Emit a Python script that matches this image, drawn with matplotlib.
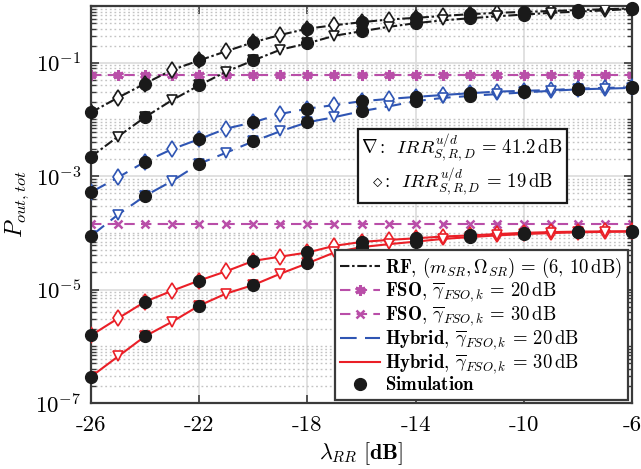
import matplotlib
matplotlib.use("Agg")
import matplotlib.pyplot as plt
from matplotlib.ticker import LogLocator, NullFormatter
from matplotlib.lines import Line2D

plt.rcParams['font.family'] = 'serif'
plt.rcParams['font.serif'] = ['cmr10', 'DejaVu Serif']
plt.rcParams['mathtext.fontset'] = 'cm'
plt.rcParams['axes.unicode_minus'] = False
plt.rcParams['axes.formatter.use_mathtext'] = True

# ---------------- data ----------------
lam = [-26, -25, -24, -23, -22, -21, -20, -19, -18, -17, -16,
       -15, -14, -13, -12, -11, -10, -9, -8, -7, -6]

rf_irr19 = [0.0133, 0.0243, 0.043, 0.075, 0.11, 0.16, 0.23, 0.31, 0.40, 0.46, 0.52,
            0.58, 0.62, 0.67, 0.72, 0.76, 0.79, 0.82, 0.85, 0.88, 0.91]
rf_irr41 = [0.0022, 0.005, 0.011, 0.022, 0.04, 0.07, 0.11, 0.17, 0.22, 0.30, 0.36,
            0.43, 0.50, 0.56, 0.61, 0.66, 0.71, 0.76, 0.80, 0.84, 0.89]

fso20 = [0.06, 0.06, 0.06, 0.06, 0.06, 0.06, 0.06, 0.06, 0.06, 0.06, 0.06,
         0.06, 0.06, 0.06, 0.06, 0.06, 0.06, 0.06, 0.06, 0.06, 0.06]
fso30 = [1.45e-4, 1.45e-4, 1.45e-4, 1.45e-4, 1.45e-4, 1.45e-4, 1.45e-4, 1.45e-4, 1.45e-4,
         1.45e-4, 1.45e-4, 1.45e-4, 1.45e-4, 1.45e-4, 1.45e-4, 1.45e-4, 1.45e-4, 1.45e-4,
         1.45e-4, 1.45e-4, 1.45e-4]

hyb20_irr19 = [5.2e-4, 9.5e-4, 1.8e-3, 3.0e-3, 4.5e-3, 6.9e-3, 8.9e-3, 1.25e-2, 1.55e-2,
               1.8e-2, 2.1e-2, 2.3e-2, 2.5e-2, 2.7e-2, 2.9e-2, 3.1e-2, 3.2e-2, 3.3e-2,
               3.5e-2, 3.6e-2, 3.7e-2]
hyb20_irr41 = [8.8e-5, 2.1e-4, 4.5e-4, 8.2e-4, 1.65e-3, 2.6e-3, 4.1e-3, 6.2e-3, 8.9e-3,
               1.1e-2, 1.4e-2, 1.7e-2, 2.1e-2, 2.4e-2, 2.6e-2, 2.8e-2, 3.0e-2, 3.2e-2,
               3.4e-2, 3.5e-2, 3.6e-2]

hyb30_irr19 = [1.55e-6, 3.1e-6, 6.1e-6, 9.5e-6, 1.44e-5, 2.1e-5, 3.2e-5, 3.8e-5, 4.5e-5,
               5.9e-5, 6.9e-5, 7.5e-5, 8.0e-5, 8.6e-5, 9.0e-5, 9.5e-5, 1.0e-4, 1.03e-4,
               1.05e-4, 1.06e-4, 1.07e-4]
hyb30_irr41 = [2.9e-7, 6.6e-7, 1.5e-6, 2.7e-6, 5.2e-6, 8.5e-6, 1.2e-5, 1.9e-5, 2.9e-5,
               4.5e-5, 5.6e-5, 6.3e-5, 7.0e-5, 7.8e-5, 8.4e-5, 9.0e-5, 9.5e-5, 9.9e-5,
               1.02e-4, 1.04e-4, 1.05e-4]

xticks = [-26, -22, -18, -14, -10, -6]
xticklabels = ['-26', '-22', '-18', '-14', '-10', '-6']
yticks = [1e-7, 1e-5, 1e-3, 1e-1]
yticklabels = [r'$10^{-7}$', r'$10^{-5}$', r'$10^{-3}$', r'$10^{-1}$']

# ---------------- style ----------------
BLACK = '#1a1a1a'
MAG = '#b94ea8'
BLUE = '#2f55b3'
RED = '#ea1f27'
lw = 1.5
ms_tri = 7.5
ms_dia = 8.5
mew = 1.2

fig = plt.figure(figsize=(6.41, 4.69), dpi=100)
ax = fig.add_axes([0.142, 0.141, 0.844, 0.846])
ax.set_yscale('log')

# RF
rf_ls = (0, (4.5, 1.3, 1.2, 1.3))
ax.plot(lam, rf_irr19, color=BLACK, lw=lw, ls=rf_ls, marker='d', ms=ms_dia,
        mfc='white', mec=BLACK, mew=mew, zorder=3)
ax.plot(lam, rf_irr41, color=BLACK, lw=lw, ls=rf_ls, marker='v', ms=ms_tri,
        mfc='white', mec=BLACK, mew=mew, zorder=3)

# FSO
fso_ls = (0, (5, 3))
ax.plot(lam, fso20, color=MAG, lw=lw, ls=fso_ls, marker=(6, 2, 0), ms=7.5,
        mec=MAG, mew=2.2, zorder=2)
ax.plot(lam, fso30, color=MAG, lw=lw, ls=fso_ls, marker='x', ms=5.5,
        mec=MAG, mew=1.8, zorder=2)

# Hybrid 20
hyb_ls = (0, (8, 4))
ax.plot(lam, hyb20_irr19, color=BLUE, lw=lw, ls=hyb_ls, marker='d', ms=ms_dia,
        mfc='white', mec=BLUE, mew=mew, zorder=3)
ax.plot(lam, hyb20_irr41, color=BLUE, lw=lw, ls=hyb_ls, marker='v', ms=ms_tri,
        mfc='white', mec=BLUE, mew=mew, zorder=3)

# Hybrid 30
ax.plot(lam, hyb30_irr19, color=RED, lw=lw, ls='-', marker='d', ms=ms_dia,
        mfc='white', mec=RED, mew=mew, zorder=3)
ax.plot(lam, hyb30_irr41, color=RED, lw=lw, ls='-', marker='v', ms=ms_tri,
        mfc='white', mec=RED, mew=mew, zorder=3)

# Simulation points (every 2 dB)
for series in (rf_irr19, rf_irr41, hyb20_irr19, hyb20_irr41, hyb30_irr19, hyb30_irr41):
    ax.plot(lam[::2], series[::2], ls='none', marker='o', ms=8.5,
            mfc=BLACK, mec=BLACK, zorder=4, clip_on=False)

# axes
ax.set_xlim(-26, -6)
ax.set_ylim(1e-7, 1)
ax.set_xticks(xticks)
ax.set_xticklabels(xticklabels)
ax.set_yticks(yticks)
ax.set_yticklabels(yticklabels)
ax.yaxis.set_minor_locator(LogLocator(base=10, subs=(1, 2, 3, 4, 5, 6, 7, 8, 9), numticks=100))
ax.yaxis.set_minor_formatter(NullFormatter())

ax.grid(True, which='major', color='#dcdcdc', lw=1.2, ls='-')
ax.grid(True, which='minor', axis='y', color='#c4c4c4', lw=1.0, ls=(0, (1.3, 2.0)))
ax.set_axisbelow(True)

for sp in ax.spines.values():
    sp.set_color('#3a3a3a')
    sp.set_linewidth(1.6)
ax.tick_params(which='both', direction='in', top=True, right=True, color='#3a3a3a')
ax.tick_params(which='major', length=6, width=1.2, labelsize=16.5)
ax.tick_params(axis='x', which='major', pad=9)
ax.tick_params(axis='y', which='major', pad=7)
ax.tick_params(which='minor', length=3.5, width=1.0)

ax.set_xlabel(r'$\lambda_{RR}\ [\mathbf{dB}]$', fontsize=16, labelpad=4)
ax.set_ylabel(r'$P_{out,tot}$', fontsize=17, labelpad=3)

# legend
handles = [
    Line2D([], [], color=BLACK, lw=lw, ls=rf_ls),
    Line2D([], [], color=MAG, lw=lw, ls=fso_ls, marker=(6, 2, 0), ms=7.5, mew=2.2),
    Line2D([], [], color=MAG, lw=lw, ls=fso_ls, marker='x', ms=5.5, mew=1.8),
    Line2D([], [], color=BLUE, lw=lw, ls=hyb_ls),
    Line2D([], [], color=RED, lw=lw, ls='-'),
    Line2D([], [], color=BLACK, ls='none', marker='o', ms=8.5),
]
labels = [
    r'$\mathbf{RF}$, $(m_{SR},\Omega_{SR})\,=\,(6,\,10\,\mathrm{dB})$',
    r'$\mathbf{FSO}$, $\overline{\gamma}_{FSO,k}\,=\,20\,\mathrm{dB}$',
    r'$\mathbf{FSO}$, $\overline{\gamma}_{FSO,k}\,=\,30\,\mathrm{dB}$',
    r'$\mathbf{Hybrid}$, $\overline{\gamma}_{FSO,k}\,=\,20\,\mathrm{dB}$',
    r'$\mathbf{Hybrid}$, $\overline{\gamma}_{FSO,k}\,=\,30\,\mathrm{dB}$',
    r'$\mathbf{Simulation}$',
]
leg = ax.legend(handles, labels, loc='lower right', bbox_to_anchor=(0.992, 0.007),
                fontsize=13.5, frameon=True, fancybox=False, framealpha=1,
                edgecolor='#3a3a3a', borderaxespad=0, handlelength=2.1,
                handletextpad=0.3, labelspacing=0.02, borderpad=0.3)
leg.get_frame().set_linewidth(1.6)
leg.set_zorder(6)

# annotation box
ax.text(0.686, 0.597,
        r'$\nabla:\ \,IRR_{S,R,D}^{u/d}\,=\,41.2\,\mathrm{dB}$' + '\n' +
        r'$\diamond:\ \,IRR_{S,R,D}^{u/d}\,=\,19\,\mathrm{dB}$',
        transform=ax.transAxes, ha='center', va='center', fontsize=13.5,
        linespacing=1.05, zorder=6,
        bbox=dict(boxstyle='square,pad=0.2', fc='white', ec=BLACK, lw=1.6))

fig.savefig('out.png', dpi=100)
